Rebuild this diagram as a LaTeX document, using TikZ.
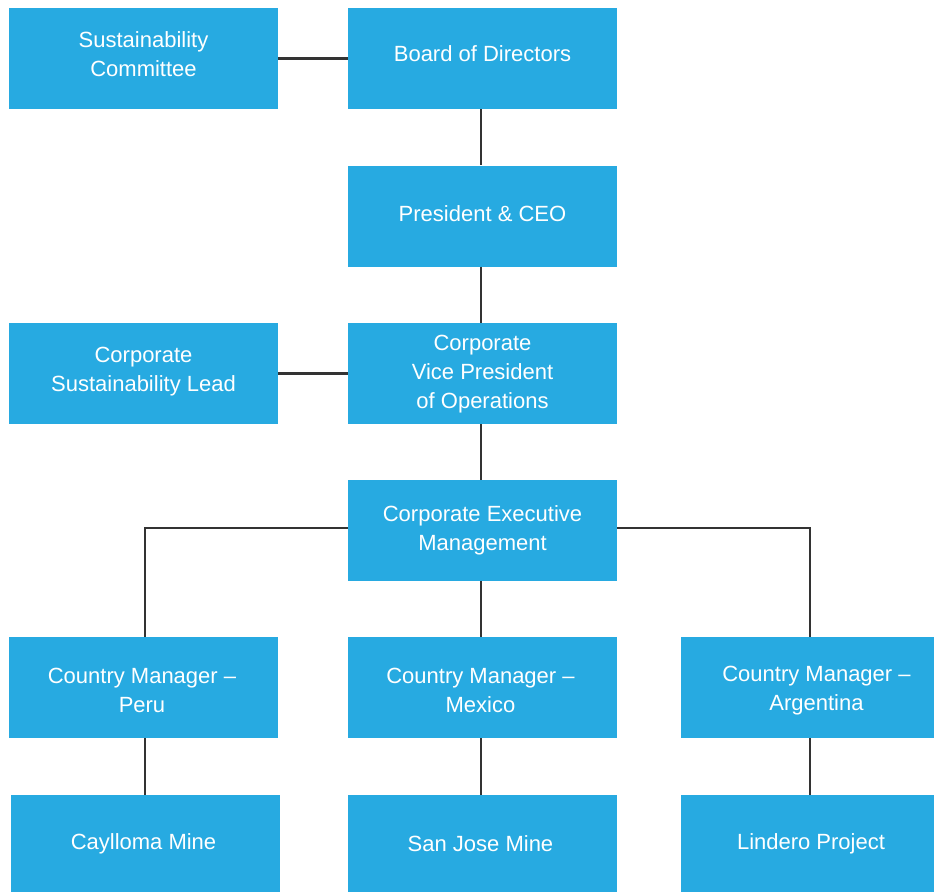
\documentclass[tikz,border=0pt]{standalone}
\usepackage{fontspec}
\setmainfont{Liberation Sans}
\definecolor{boxblue}{HTML}{27AAE1}
\definecolor{linegray}{HTML}{333333}
\begin{document}
\begin{tikzpicture}[x=1pt,y=-1pt,
  box/.style={fill=boxblue,draw=none,inner sep=0pt,
    minimum width=269pt,minimum height=101pt},
  narrowbox/.style={box,minimum width=253pt},
  lowbox/.style={minimum height=97pt},
  lbl/.style={text=white,align=center,inner sep=0pt,font=\fontsize{22}{29}\selectfont},
  conn/.style={draw=linegray,line width=2.2pt}]
\useasboundingbox (0,0) rectangle (934,892);
% boxes
\node[box] (sc) at (143.5,58.5) {};
\node[box] (bod) at (482.5,58.5) {};
\node[box] (ceo) at (482.5,216) {};
\node[box] (csl) at (143.5,373.5) {};
\node[box] (vp) at (482.5,373.5) {};
\node[box] (cem) at (482.5,530.5) {};
\node[box] (peru) at (143.5,687.5) {};
\node[box] (mex) at (482.5,687.5) {};
\node[narrowbox] (arg) at (807.5,687.5) {};
\node[box,lowbox] (cay) at (145.5,843.5) {};
\node[box,lowbox] (sj) at (482.5,843.5) {};
\node[narrowbox,lowbox] (lin) at (807.5,843.5) {};
% labels
\node[lbl] (sct) at ([yshift=4.5pt]sc.center) {Sustainability\\Committee};
\node[lbl] (bodt) at ([yshift=5pt]bod.center) {Board of Directors};
\node[lbl] (ceot) at ([yshift=2pt]ceo.center) {President \& CEO};
\node[lbl] (cslt) at ([yshift=1.5pt]csl.center) {Corporate\\Sustainability Lead};
\node[lbl] (vpt) at ([yshift=-1pt]vp.center) {Corporate\\Vice President\\of Operations};
\node[lbl] (cemt) at ([yshift=0pt]cem.center) {Corporate Executive\\Management};
\node[lbl] (perut) at ([yshift=-3pt,xshift=-1.5pt]peru.center) {Country Manager --\\Peru};
\node[lbl] (mext) at ([yshift=-3pt,xshift=-2pt]mex.center) {Country Manager --\\Mexico};
\node[lbl] (argt) at ([yshift=-3pt,xshift=9pt]arg.center) {Country Manager --\\Argentina};
\node[lbl] (cayt) at ([xshift=-2pt]cay.center) {Caylloma Mine};
\node[lbl] (sjt) at ([xshift=-2pt]sj.center) {San Jose Mine};
\node[lbl] (lint) at ([xshift=3.5pt]lin.center) {Lindero Project};
% connector anchors
\coordinate (ml) at (481,0);
\coordinate (hl) at (0,528);
\coordinate (pl) at (145,637);
\coordinate (al) at (810,637);
% connectors
\draw[conn] (sc) -- (bod);
\draw[conn] (ml |- bod.south) -- (ml |- ceo.north);
\draw[conn] (ml |- ceo.south) -- (ml |- vp.north);
\draw[conn] (csl) -- (vp);
\draw[conn] (ml |- vp.south) -- (ml |- cem.north);
\draw[conn] (ml |- cem.south) -- (ml |- mex.north);
\draw[conn] (cem.west |- hl) -| (pl);
\draw[conn] (cem.east |- hl) -| (al);
\draw[conn] (pl |- peru.south) -- (pl |- cay.north);
\draw[conn] (ml |- mex.south) -- (ml |- sj.north);
\draw[conn] (al |- arg.south) -- (al |- lin.north);
\end{tikzpicture}
\end{document}
